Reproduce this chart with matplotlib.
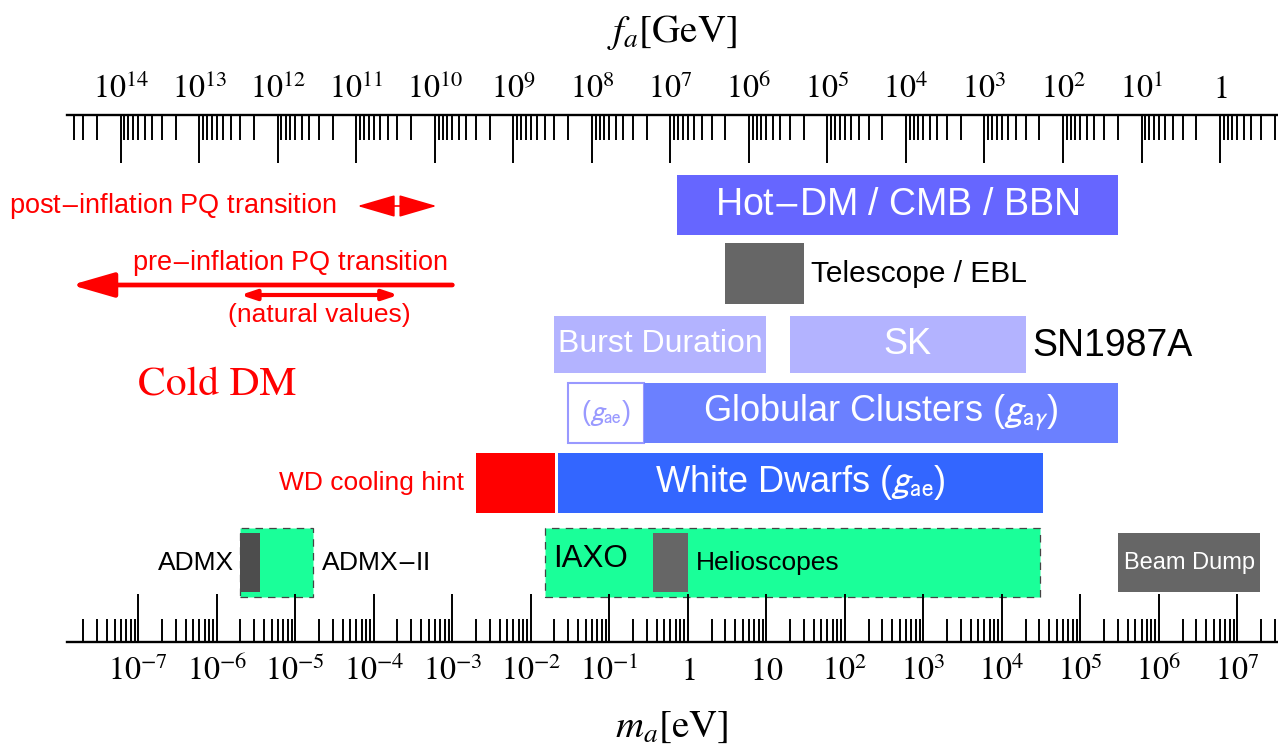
import matplotlib
matplotlib.use("Agg")
import matplotlib.pyplot as plt
import numpy as np
from matplotlib.patches import FancyArrowPatch
from matplotlib.ticker import FixedLocator, FuncFormatter, LogLocator, NullFormatter

# axion mass ranges [eV] (low, high)
hot_dm = (0.72, 3.0e5)
telescope = (3.0, 30.0)
burst_duration = (0.02, 10.0)
sk = (20.0, 2.0e4)
gc_gae = (0.03, 0.275)
gc_gagamma = (0.275, 3.0e5)
white_dwarfs = (0.0223, 3.3e4)
wd_hint = (0.002, 0.0202)
helioscopes = (0.015, 3.1e4)
iaxo = (0.355, 1.0)
admx_ii = (2.0e-6, 1.7e-5)
admx = (2.0e-6, 3.5e-6)
beam_dump = (3.0e5, 1.96e7)

# cosmology arrows [eV]
post_inflation = (6.2e-5, 6.3e-4)
pre_inflation = (1.0e-3, 1.4e-8)  # start, tip
natural_values = (2.0e-6, 2.05e-4)

m_ticks = 10.0 ** np.arange(-7, 8)
fa_ticks = 10.0 ** np.arange(0, 15)
FA_NORM = 6.0e6  # f_a[GeV] = 6e6 / m_a[eV]
M_MIN, M_MAX = 10 ** -7.912, 10 ** 7.5

SANS = "Liberation Sans"
SERIF = "STIXGeneral"
plt.rcParams["mathtext.fontset"] = "stix"

HOT = "#6666ff"
LAV = "#b3b3ff"
GC = "#6b80ff"
WD = "#3366ff"
GRAY = "#666666"
DGRAY = "#4d4d4d"
GREEN = "#1aff99"
RED = "#ff0000"


def box(ax, rng, y0, y1, color, **kw):
    ax.barh(y0, rng[1] - rng[0], left=rng[0], height=y1 - y0,
            align="edge", color=color, **kw)


def label(ax, x, y, s, size, color="black", ha="center", family=SANS, **kw):
    ax.text(x, y, s, fontsize=size, color=color, ha=ha, va="center",
            family=family, math_fontfamily="stixsans", **kw)


def arrow(ax, a, b, y, style, lw):
    ax.add_patch(FancyArrowPatch((a, y), (b, y), arrowstyle=style, lw=lw,
                                 color=RED, mutation_scale=1,
                                 shrinkA=0, shrinkB=0))


def mid(rng):
    return np.sqrt(rng[0] * rng[1])


def pow_label(v, _pos=None, plain_ten=True):
    e = int(round(np.log10(v)))
    if e == 0:
        return "$1$"
    if e == 1 and plain_ten:
        return "$10$"
    return "$10^{%d}$" % e


fig = plt.figure(figsize=(12.78, 7.48), dpi=100)
ax = fig.add_axes([66.7 / 1278, 1 - 641.7 / 748, 1210 / 1278, 526.7 / 748])
ax.set_xscale("log")
ax.set_xlim(M_MIN, M_MAX)
ax.set_ylim(0, 526.7)

# rows (bottom, top) in pixels above the lower axis
box(ax, hot_dm, 406.7, 466.7, HOT)
label(ax, mid(hot_dm), 436.7, "Hot$-$DM / CMB / BBN", 27, "white")

box(ax, telescope, 337.7, 398.7, GRAY)
label(ax, 36.6, 368.2, "Telescope / EBL", 21.5, ha="left")

box(ax, burst_duration, 268.7, 325.7, LAV)
box(ax, sk, 268.7, 325.7, LAV)
label(ax, mid(burst_duration), 297.2, "Burst Duration", 23, "white")
label(ax, mid(sk), 297.2, "SK", 26, "white")
label(ax, 2.46e4, 296.2, "SN1987A", 27, ha="left")

box(ax, gc_gae, 198.7, 258.7, "white", edgecolor="#9999ff", linewidth=1.5)
box(ax, gc_gagamma, 198.7, 258.7, GC)
label(ax, mid(gc_gae), 228.7, r"($g_{\mathrm{ae}}$)", 19.5, "#9999ff")
label(ax, mid(gc_gagamma), 228.7, r"Globular Clusters ($g_{\mathrm{a}\gamma}$)", 26, "white")

box(ax, wd_hint, 128.7, 188.7, RED)
box(ax, white_dwarfs, 128.7, 188.7, WD)
label(ax, mid(white_dwarfs), 158.7, r"White Dwarfs ($g_{\mathrm{ae}}$)", 26, "white")
label(ax, 1.39e-3, 158.7, "WD cooling hint", 19, RED, ha="right")

box(ax, helioscopes, 44.7, 113.7, GREEN, edgecolor="#444444",
    linewidth=0.9, linestyle=(0, (6, 5)))
box(ax, iaxo, 49.7, 108.7, GRAY)
label(ax, 0.019, 82.7, "IAXO", 22.5, ha="left")
label(ax, 1.25, 78.7, "Helioscopes", 19, ha="left")

box(ax, admx_ii, 44.7, 113.7, GREEN, edgecolor="#444444",
    linewidth=0.9, linestyle=(0, (6, 5)))
box(ax, admx, 49.7, 108.7, DGRAY)
label(ax, 1.65e-6, 78.7, "ADMX", 19, ha="right")
label(ax, 2.1e-5, 78.7, r"ADMX$-$II", 19, ha="left")

box(ax, beam_dump, 49.7, 108.7, GRAY)
label(ax, mid(beam_dump), 78.7, "Beam Dump", 17, "white")

# cosmology
arrow(ax, post_inflation[0], post_inflation[1], 435.7,
      "<|-|>,head_length=24,head_width=7", 1.2)
label(ax, 2.24e-9, 435.7, r"post$-$inflation PQ transition", 19.5, RED, ha="left")
arrow(ax, pre_inflation[0], pre_inflation[1], 356.7,
      "-|>,head_length=26,head_width=7.5", 3.4)
label(ax, 8.2e-8, 378.4, r"pre$-$inflation PQ transition", 19.5, RED, ha="left")
arrow(ax, natural_values[0], natural_values[1], 346.7,
      "<|-|>,head_length=9,head_width=3", 3)
label(ax, mid(natural_values), 326.7, "(natural values)", 19, RED)
label(ax, 9.8e-8, 256.7, "Cold DM", 30, RED, ha="left", family=SERIF)

# lower axis: m_a
for side in ("left", "right", "top"):
    ax.spines[side].set_visible(False)
ax.spines["bottom"].set_linewidth(1.7)
ax.yaxis.set_visible(False)
ax.xaxis.set_major_locator(FixedLocator(m_ticks))
ax.xaxis.set_minor_locator(LogLocator(base=10, subs=np.arange(2, 10), numticks=100))
ax.xaxis.set_major_formatter(FuncFormatter(pow_label))
ax.xaxis.set_minor_formatter(NullFormatter())
ax.tick_params(axis="x", which="major", direction="in", length=34.5, width=1.4,
               pad=10, labelsize=23)
ax.tick_params(axis="x", which="minor", direction="in", length=16.5, width=1.4)

# upper axis: f_a
ax2 = ax.twiny()
ax2.set_xscale("log")
ax2.set_xlim(FA_NORM / M_MIN, FA_NORM / M_MAX)
for side in ("left", "right", "bottom"):
    ax2.spines[side].set_visible(False)
ax2.spines["top"].set_linewidth(1.7)
ax2.xaxis.set_major_locator(FixedLocator(fa_ticks))
ax2.xaxis.set_minor_locator(LogLocator(base=10, subs=np.arange(2, 10), numticks=100))
ax2.xaxis.set_major_formatter(FuncFormatter(lambda v, p: pow_label(v, p, plain_ten=False)))
ax2.xaxis.set_minor_formatter(NullFormatter())
ax2.tick_params(axis="x", which="major", direction="in", length=34.5, width=1.4,
                pad=7, labelsize=23)
ax2.tick_params(axis="x", which="minor", direction="in", length=18, width=1.4)

fig.text(671.7 / 1278, 1 - 33 / 748, "$f_a$[GeV]", fontsize=28, family=SERIF,
         ha="center", va="center")
fig.text(671.7 / 1278, 1 - 727 / 748, "$m_a$[eV]", fontsize=28, family=SERIF,
         ha="center", va="center")

fig.savefig("out.png", dpi=100)
